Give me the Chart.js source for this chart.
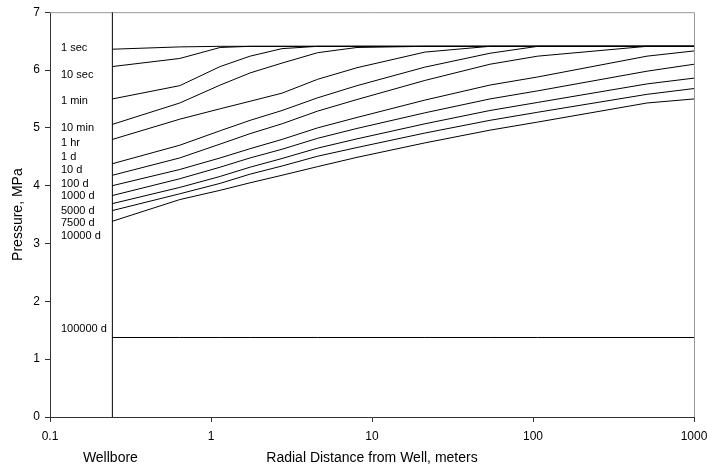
<!DOCTYPE html>
<html lang="en">
<head>
<meta charset="UTF-8">
<title>Pressure vs Radial Distance</title>
<script src="https://cdn.jsdelivr.net/npm/chart.js@4.4.1/dist/chart.umd.min.js"></script>
<style>
  html, body { margin: 0; padding: 0; background: #fff; }
  #wrap { width: 707px; height: 470px; }
</style>
</head>
<body>
<div id="wrap"><canvas id="chart" width="707" height="470"></canvas></div>
<script>
// radial distance from well, meters (first point = wellbore radius)
const radius = [0.244, 0.64, 1.14, 1.75, 2.76, 4.6, 8.07, 21.3, 54, 107, 511, 1000];
const wellbore = 0.244;

const times = ['1 sec', '10 sec', '1 min', '10 min', '1 hr', '1 d', '10 d', '100 d',
               '1000 d', '5000 d', '7500 d', '10000 d', '100000 d'];

// pressure, MPa
const p1sec    = [6.36, 6.40, 6.41, 6.41, 6.41, 6.41, 6.41, 6.41, 6.41, 6.41, 6.41, 6.41];
const p10sec   = [6.06, 6.20, 6.39, 6.41, 6.41, 6.41, 6.41, 6.41, 6.41, 6.41, 6.41, 6.41];
const p1min    = [5.50, 5.73, 6.06, 6.24, 6.37, 6.41, 6.41, 6.41, 6.41, 6.41, 6.41, 6.41];
const p10min   = [5.06, 5.43, 5.74, 5.95, 6.12, 6.30, 6.39, 6.41, 6.41, 6.41, 6.41, 6.41];
const p1hr     = [4.80, 5.15, 5.33, 5.46, 5.60, 5.84, 6.04, 6.31, 6.41, 6.41, 6.41, 6.41];
const p1d      = [4.38, 4.70, 4.95, 5.13, 5.30, 5.52, 5.73, 6.05, 6.29, 6.41, 6.41, 6.41];
const p10d     = [4.18, 4.48, 4.72, 4.90, 5.07, 5.29, 5.49, 5.82, 6.10, 6.24, 6.41, 6.41];
const p100d    = [4.00, 4.28, 4.48, 4.64, 4.80, 5.00, 5.18, 5.48, 5.74, 5.88, 6.24, 6.33];
const p1000d   = [3.83, 4.12, 4.32, 4.48, 4.63, 4.82, 4.99, 5.26, 5.50, 5.64, 5.98, 6.10];
const p5000d   = [3.69, 3.97, 4.16, 4.32, 4.47, 4.65, 4.81, 5.07, 5.30, 5.44, 5.76, 5.86];
const p7500d   = [3.57, 3.86, 4.04, 4.20, 4.34, 4.51, 4.66, 4.91, 5.13, 5.27, 5.58, 5.68];
const p10000d  = [3.385, 3.76, 3.92, 4.05, 4.18, 4.33, 4.49, 4.74, 4.96, 5.10, 5.43, 5.50];
const p100000d = [1.375, 1.375, 1.375, 1.375, 1.375, 1.375, 1.375, 1.375, 1.375, 1.375, 1.375, 1.375];

// where the time labels sit (MPa)
const labelAt = [6.38, 5.91, 5.46, 4.99, 4.74, 4.50, 4.27, 4.03, 3.82, 3.57, 3.36, 3.13, 1.52];

const xTicks = [0.1, 1, 10, 100, 1000];

const series = [p1sec, p10sec, p1min, p10min, p1hr, p1d, p10d, p100d,
                p1000d, p5000d, p7500d, p10000d, p100000d];

const FONT = "'Liberation Sans', Arial, sans-serif";

const datasets = series.map((vals, i) => ({
  label: times[i],
  data: vals.map((v, j) => ({x: radius[j], y: v})),
  showLine: true,
  borderColor: '#000',
  borderWidth: 1,
  pointRadius: 0,
  tension: 0
}));
// wellbore wall
datasets.push({
  label: 'Wellbore',
  data: [{x: wellbore, y: 0}, {x: wellbore, y: 7}],
  showLine: true,
  borderColor: '#000',
  borderWidth: 1,
  pointRadius: 0
});

const extras = {
  id: 'extras',
  beforeDatasetsDraw(chart) {
    const {ctx, chartArea: a} = chart;
    ctx.save();
    ctx.strokeStyle = '#999';
    ctx.lineWidth = 1;
    ctx.beginPath();
    ctx.moveTo(a.left, a.top + 0.5);
    ctx.lineTo(a.right + 0.5, a.top + 0.5);
    ctx.lineTo(a.right + 0.5, a.bottom);
    ctx.stroke();
    ctx.restore();
  },
  afterDraw(chart) {
    const {ctx, chartArea: a} = chart;
    const xs = chart.scales.x, ys = chart.scales.y;
    ctx.save();
    ctx.fillStyle = '#000';
    ctx.font = '11px ' + FONT;
    ctx.textAlign = 'left';
    ctx.textBaseline = 'middle';
    times.forEach((t, i) => {
      ctx.fillText(t, a.left + 11, ys.getPixelForValue(labelAt[i]));
    });
    ctx.font = '14px ' + FONT;
    ctx.textAlign = 'center';
    ctx.fillText('Wellbore', xs.getPixelForValue(wellbore) - 2, 458);
    ctx.restore();
  }
};

new Chart(document.getElementById('chart'), {
  type: 'scatter',
  data: {datasets},
  plugins: [extras],
  options: {
    responsive: false,
    animation: false,
    layout: {padding: {left: 0, right: 13, top: 9, bottom: 0}},
    plugins: {legend: {display: false}, tooltip: {enabled: false}},
    scales: {
      x: {
        type: 'logarithmic',
        min: 0.1,
        max: 1000,
        afterBuildTicks(scale) {
          scale.ticks = xTicks.map(v => ({value: v}));
        },
        afterFit(scale) {
          scale.height = 53;
          scale.paddingLeft = 0;
          scale.paddingRight = 0;
        },
        ticks: {
          color: '#000',
          padding: 7,
          maxRotation: 0,
          autoSkip: false,
          font: {family: FONT, size: 12},
          callback: v => String(v)
        },
        grid: {display: true, drawOnChartArea: false, drawTicks: true, tickLength: 5, color: '#333'},
        border: {display: true, color: '#333', width: 1},
        title: {
          display: true,
          text: 'Radial Distance from Well, meters',
          color: '#000',
          font: {family: FONT, size: 14},
          padding: {top: 0, bottom: 3}
        }
      },
      y: {
        min: 0,
        max: 7,
        afterFit(scale) {
          scale.width = 50;
        },
        ticks: {
          stepSize: 1,
          color: '#000',
          padding: 5,
          font: {family: FONT, size: 12}
        },
        grid: {display: true, drawOnChartArea: false, drawTicks: true, tickLength: 5, color: '#333'},
        border: {display: true, color: '#333', width: 1},
        title: {
          display: true,
          text: 'Pressure, MPa',
          color: '#000',
          font: {family: FONT, size: 14},
          padding: {top: 10, bottom: 0}
        }
      }
    }
  }
});
</script>
</body>
</html>
